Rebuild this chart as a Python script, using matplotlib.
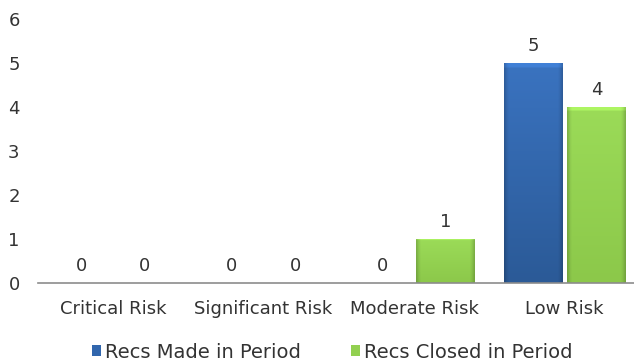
import numpy as np
import matplotlib.pyplot as plt
from matplotlib.colors import to_rgb

plt.rcParams['font.family'] = ['DejaVu Sans']

categories = ['Critical Risk', 'Significant Risk', 'Moderate Risk', 'Low Risk']
recs_made = [0, 0, 0, 5]
recs_closed = [0, 0, 1, 4]
series_names = ['Recs Made in Period', 'Recs Closed in Period']

BLUE = '#3166ad'
GREEN = '#92d050'
TEXT = '#333333'
FS = 13

fig = plt.figure(figsize=(6.34, 3.63), dpi=100)
ax = fig.add_axes([37.7 / 634, 80 / 363, 602.3 / 634, 264 / 363])

x = np.arange(len(categories))
w = 0.39
gap = 0.015
bars_made = ax.bar(x - w / 2 - gap, recs_made, w, color=BLUE, label=series_names[0])
bars_closed = ax.bar(x + w / 2 + gap, recs_closed, w, color=GREEN, label=series_names[1])


# bevel-like shading: lighter top, darker bottom, slightly darker side edges
def shade(bars, top, bottom):
    top, bottom = np.array(to_rgb(top)), np.array(to_rgb(bottom))
    ny, nx = 100, 40
    t = np.linspace(0, 1, ny)[:, None, None]
    img = top * (1 - t) + bottom * t
    img = np.repeat(img, nx, axis=1)
    edge = np.ones(nx)
    edge[:3] = [0.82, 0.9, 0.96]
    edge[-3:] = [0.96, 0.9, 0.82]
    img = img * edge[None, :, None]
    img[:2] = np.clip(img[:2] * 1.12, 0, 1)
    for b in bars:
        if b.get_height() <= 0:
            continue
        x0, y0 = b.get_x(), b.get_y()
        im = ax.imshow(img, aspect='auto', zorder=b.get_zorder() + 0.1,
                       extent=[x0, x0 + b.get_width(), y0, y0 + b.get_height()],
                       interpolation='bilinear')
        im.set_clip_path(b)


shade(bars_made, '#3a73c0', '#2b5a97')
shade(bars_closed, '#9bdb58', '#8cc84a')

for bars in (bars_made, bars_closed):
    for b in bars:
        h = b.get_height()
        ax.annotate(f'{h:g}', (b.get_x() + b.get_width() / 2, h),
                    xytext=(0, 12.5), textcoords='offset points', ha='center',
                    va='center', fontsize=FS, color=TEXT)

ax.set_xlim(-0.5, len(categories) - 0.5)
ax.set_ylim(0, 6)
ax.set_yticks(range(0, 7))
ax.set_xticks(x)
ax.set_xticklabels(categories)
ax.tick_params(axis='both', length=0, labelsize=FS, labelcolor=TEXT)
ax.tick_params(axis='y', pad=13)
ax.tick_params(axis='x', pad=12.5)
for s in ['top', 'right', 'left']:
    ax.spines[s].set_visible(False)
ax.spines['bottom'].set_color('#8c8c8c')
ax.spines['bottom'].set_linewidth(1.2)

fig.legend(handles=[bars_made, bars_closed], labels=series_names, loc='center',
           bbox_to_anchor=(332 / 634, 1 - 352 / 363), ncol=2, frameon=False,
           fontsize=14, handlelength=0.45, handleheight=0.45, handletextpad=0.2,
           columnspacing=2.6, labelcolor=TEXT, borderpad=0)

fig.savefig('out.png', dpi=100)
